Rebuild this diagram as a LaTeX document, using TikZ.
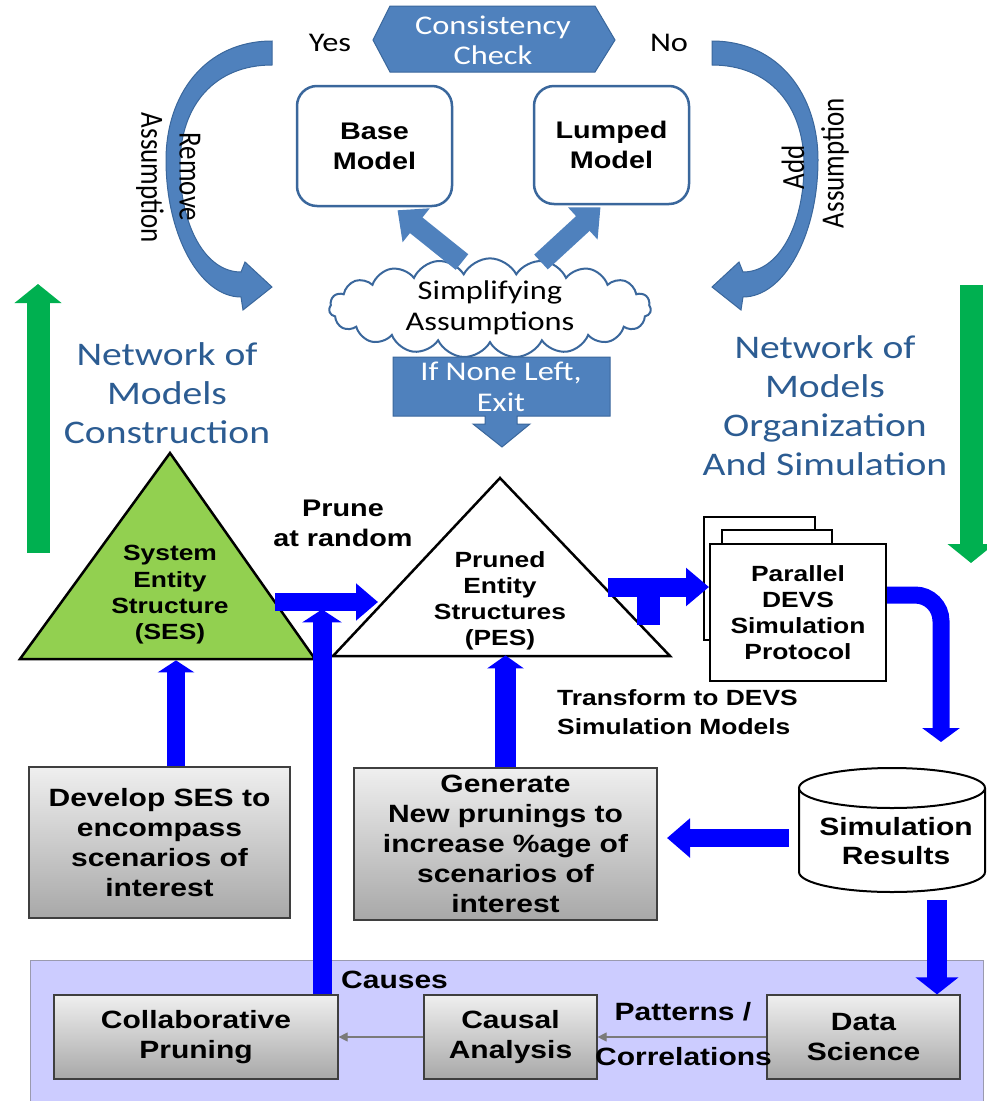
\documentclass[tikz,border=0pt]{standalone}
\usepackage{fontspec}
\usetikzlibrary{arrows.meta,shapes.symbols,calc}
\newfontfamily\fCal[FakeStretch=1.2]{Carlito}
\newfontfamily\fCalN{Carlito}
\newfontfamily\fAr[FakeStretch=1.2]{Liberation Sans}
\newcommand\bsz[2]{\fAr\bfseries\fontsize{#1}{#2}\selectfont}
\newcommand\csz[2]{\fCal\fontsize{#1}{#2}\selectfont}
\definecolor{steel}{HTML}{4F81BD}
\definecolor{steelD}{HTML}{3A679C}
\definecolor{navytxt}{HTML}{2C5C92}
\definecolor{pureblue}{HTML}{0000FF}
\definecolor{grn}{HTML}{00B050}
\definecolor{sesgreen}{HTML}{92D050}
\definecolor{lav}{HTML}{CCCCFF}
\definecolor{lavD}{HTML}{9A9AAE}
\definecolor{boxtop}{HTML}{EFEFEF}
\definecolor{boxbot}{HTML}{A8A8A8}
\definecolor{boxedge}{HTML}{3F3F3F}
\definecolor{thingray}{HTML}{7A7A7A}
\begin{document}
\begin{tikzpicture}[x=1pt,y=1pt,
  txt/.style={align=center, inner sep=0pt},
  rbox/.style={draw=steelD, line width=2.5pt, fill=white, rounded corners=20pt,
    align=center, inner sep=0pt, font=\bsz{24}{30}},
  gbox/.style={draw=boxedge, line width=1.2pt, top color=boxtop, bottom color=boxbot,
    align=center, inner sep=0pt, font=\bsz{25}{30}},
  blockarrow/.style args={#1/#2/#3}{draw=pureblue, line width=#1pt,
    -{Triangle[length=#2pt, width=#3pt]}},
  steelarrow/.style args={#1/#2/#3}{draw=steel, line width=#1pt,
    -{Triangle[length=#2pt, width=#3pt]}},
  greenarrow/.style={draw=grn, line width=23pt, -{Triangle[length=19pt, width=46pt]}},
  thinarrow/.style={draw=thingray, line width=1.2pt, -{Triangle[length=9pt, width=9pt]}},
  curvedarrow/.style={fill=steel, draw=steelD, line width=1pt},
  bluetitle/.style={txt, text=navytxt, font=\csz{33}{39}},
  rotlabel/.style={txt, font=\fCalN\fontsize{27}{30}\selectfont}
]
\useasboundingbox (0,0) rectangle (987,-1101);

% ---------- top: consistency loop ----------
\path[fill=steel, draw=steelD, line width=1pt]
  (373,-40) -- (390,-6) -- (595,-6) -- (615,-40) -- (595,-72) -- (390,-72) -- cycle;
\node[txt, text=white, font=\csz{27}{30}] (cc) at (493,-40) {Consistency\\Check};
\node[txt, font=\csz{27}{30}] (yes) at (330,-43) {Yes};
\node[txt, font=\csz{27}{30}] (no) at (669,-43) {No};

% curved "remove" arrow
\path[curvedarrow]
  (272,-41) .. controls (205,-41) and (166,-95) .. (166,-160)
  .. controls (166,-235) and (200,-297) .. (241,-297)
  -- (243,-310) -- (272,-287) -- (245,-262) -- (241,-272)
  .. controls (205,-272) and (180,-225) .. (180,-165)
  .. controls (180,-105) and (215,-65) .. (272,-65) -- cycle;
% curved "add" arrow
\path[curvedarrow]
  (712,-41) .. controls (779,-41) and (818,-95) .. (818,-160)
  .. controls (818,-235) and (784,-297) .. (743,-297)
  -- (741,-310) -- (712,-287) -- (739,-262) -- (743,-272)
  .. controls (779,-272) and (804,-225) .. (804,-165)
  .. controls (804,-105) and (769,-65) .. (712,-65) -- cycle;
\node[rotlabel, rotate=-90] (remove) at (190,-177) {\scalebox{1}[1.2]{Remove}};
\node[rotlabel, rotate=-90] (assumeL) at (150,-178) {\scalebox{1}[1.2]{Assumption}};
\node[rotlabel, rotate=90] (add) at (793,-167) {\scalebox{1}[1.2]{Add}};
\node[rotlabel, rotate=90] (assumeR) at (835,-163) {\scalebox{1}[1.2]{Assumption}};

\node[rbox, minimum width=155pt, minimum height=120pt] (base) at (374.5,-146) {Base\\Model};
\node[rbox, minimum width=155pt, minimum height=118pt] (lumped) at (611.5,-145) {Lumped\\Model};

\node[cloud, cloud puffs=19, cloud puff arc=125, cloud ignores aspect,
  minimum width=322pt, minimum height=86pt, draw=steelD, line width=2pt, fill=white,
  txt, font=\csz{27}{31}] (cloud) at (490,-308) {Simplifying\\Assumptions};

\coordinate (cbL) at (462,-262);
\coordinate (cbR) at (541,-262);
\draw[steelarrow=20/24/42] (cbL) -- ($(base.south)+(23,-3)$);
\draw[steelarrow=20/24/42] (cbR) -- ($(lumped.south)+(-11,-2)$);

% exit callout
\path[fill=steel, draw=steelD, line width=1pt]
  (393,-357) -- (610,-357) -- (610,-416) -- (517,-416) -- (517,-424) -- (530,-424)
  -- (502,-447) -- (473,-424) -- (485,-424) -- (485,-416) -- (393,-416) -- cycle;
\node[txt, text=white, font=\csz{27}{31}] (exit) at (501,-387) {If None Left,\\Exit};

% ---------- side titles ----------
\node[bluetitle] (titleL) at (167,-393) {Network of\\Models\\Construction};
\node[bluetitle] (titleR) at (825,-405.5) {Network of\\Models\\Organization\\And Simulation};
\coordinate (gL0) at (38,-553);
\coordinate (gL1) at (38,-284);
\coordinate (gR0) at (971,-285);
\coordinate (gR1) at (971,-563);
\draw[greenarrow] (gL0) -- (gL1);
\draw[greenarrow] (gR0) -- (gR1);

% ---------- entity structures ----------
\coordinate (sesA) at (170,-453);
\coordinate (sesL) at (20,-659);
\coordinate (sesR) at (315,-659);
\draw[fill=sesgreen, line width=2.5pt, line join=miter] (sesA) -- (sesL) -- (sesR) -- cycle;
\node[txt, font=\bsz{22}{26.3}] (ses) at (170,-595) {System\\Entity\\Structure\\(SES)};

\coordinate (pesA) at (500,-478);
\coordinate (pesL) at (333,-656);
\coordinate (pesR) at (670,-656);
\draw[fill=white, line width=2.5pt, line join=miter] (pesA) -- (pesL) -- (pesR) -- cycle;
\node[txt, font=\bsz{22}{26}] (pes) at (500,-601) {Pruned\\Entity\\Structures\\(PES)};

\node[txt, font=\bsz{24}{30}] (prune) at (343,-523) {Prune\\at random};

% parallel DEVS protocol (stacked sheets)
\draw[line width=2pt, fill=white] (704,-517) rectangle (815,-640);
\draw[line width=2pt, fill=white] (722,-530) rectangle (832,-640);
\node[draw, line width=2pt, fill=white, minimum width=176pt, minimum height=137pt,
  txt, font=\bsz{22}{26}] (devs) at (798,-612.5) {Parallel\\DEVS\\Simulation\\Protocol};
\node[txt, align=left, anchor=west, font=\bsz{22}{29}] (transform) at (557,-712.5)
  {Transform to DEVS\\Simulation Models};

% simulation results store
\draw[line width=2pt, fill=white] (799,-788) -- (799,-872)
  arc[start angle=180, end angle=360, x radius=93, y radius=20] -- (985,-788);
\draw[line width=2pt, fill=white] (892,-788) ellipse [x radius=93, y radius=20];
\node[txt, font=\bsz{25}{29}] (simres) at (896,-841) {Simulation\\Results};

% ---------- activity boxes ----------
\node[gbox, minimum width=261pt, minimum height=151pt] (dev) at (159.5,-842.5)
  {Develop SES to\\encompass\\scenarios of\\interest};
\node[gbox, minimum width=303pt, minimum height=152pt] (gen) at (505.5,-844)
  {Generate\\New prunings to\\increase \%age of\\scenarios of\\interest};

\draw[fill=lav, draw=lavD, line width=1pt] (30,-960) rectangle (983,-1110);
\node[txt, anchor=west, font=\bsz{25}{30}] (causes) at (341,-980) {Causes};
\node[gbox, minimum width=284pt, minimum height=84pt] (collab) at (196,-1037) {Collaborative\\Pruning};
\node[gbox, minimum width=173pt, minimum height=84pt] (causal) at (510.5,-1037) {Causal\\Analysis};
\node[gbox, minimum width=193pt, minimum height=84pt] (data) at (863.5,-1037) {Data\\Science};
\node[txt, font=\bsz{25}{30}] (patterns) at (683,-1012) {Patterns /};
\node[txt, font=\bsz{25}{30}] (correl) at (683.5,-1057) {Correlations};

% ---------- flow connectors ----------
\draw[blockarrow=18/12/36] ($(dev.north)+(16.5,0)$) -- ++(0,106);
\draw[blockarrow=19/13/39] ($(collab.north)+(126,0)$) -- ++(0,385);
\coordinate (prA) at (275,-602);
\coordinate (prB) at (378,-602);
\draw[blockarrow=18/22/36] (prA) -- (prB);
\draw[blockarrow=21/13/36] (gen.north) -- ++(0,112);
\coordinate (tS) at (608,-587);
\draw[draw=pureblue, line width=23pt] (648.5,-580) -- (648.5,-625);
\draw[blockarrow=19/23/37] (tS) -- (tS -| devs.west);
\coordinate (dOut) at (devs.east |- 0,-595);
\coordinate (dTurn) at (941,-595);
\coordinate (dEnd) at (941,-742);
\draw[blockarrow=17/14/37, rounded corners=26pt] (dOut) -- (dTurn) -- (dEnd);
\coordinate (sgA) at (789,-838);
\coordinate (sgB) at (667,-838);
\draw[blockarrow=18/23/38] (sgA) -- (sgB);
\coordinate (sd) at (937,-900);
\draw[blockarrow=20/17/42] (sd) -- (sd |- data.north);
\draw[thinarrow] (data.west) -- (causal.east);
\draw[thinarrow] (causal.west) -- (collab.east);
\end{tikzpicture}
\end{document}
